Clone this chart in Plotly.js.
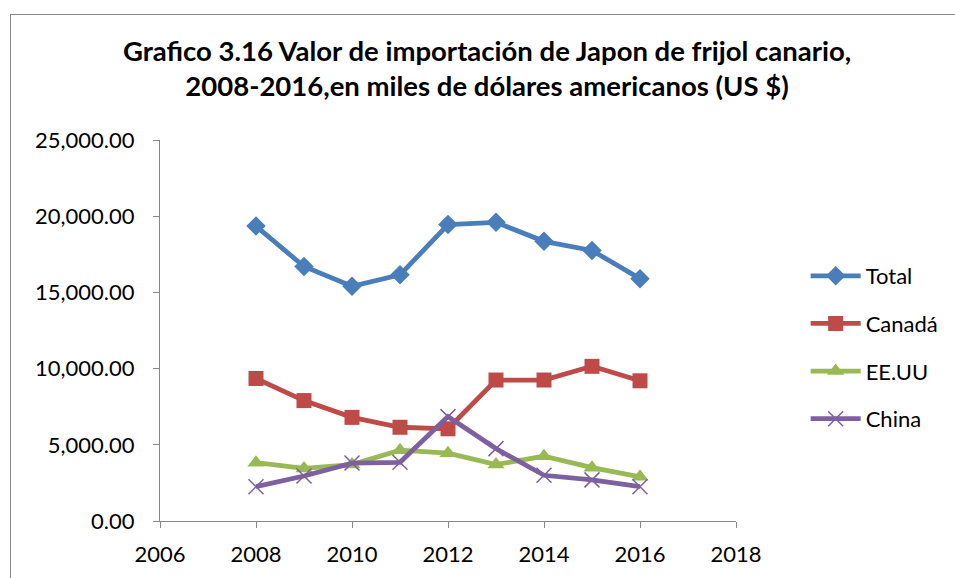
<!DOCTYPE html>
<html>
<head>
<meta charset="utf-8">
<script src="https://cdn.plot.ly/plotly-3.0.1.min.js"></script>
<style>
html,body{margin:0;padding:0;background:#fff;}
#wrap{position:relative;width:955px;height:578px;overflow:hidden;}
#frame{position:absolute;left:10px;top:14px;width:960px;height:600px;border:1.5px solid #888;box-sizing:border-box;pointer-events:none;}
#chart{position:absolute;left:0;top:0;width:955px;height:578px;}
</style>
</head>
<body>
<div id="wrap">
<div id="chart"></div>
<div id="frame"></div>
</div>
<script>
const years = [2008, 2009, 2010, 2011, 2012, 2013, 2014, 2015, 2016];
const total = [19350, 16700, 15400, 16150, 19450, 19600, 18350, 17750, 15900];
const canada = [9350, 7900, 6800, 6150, 6050, 9250, 9250, 10150, 9200];
const eeuu = [3830, 3450, 3700, 4650, 4450, 3700, 4250, 3500, 2900];
const china = [2250, 2950, 3800, 3850, 6850, 4750, 3000, 2700, 2250];
const seriesNames = ["Total", "Canadá", "EE.UU", "China"];
const colors = ["#4A7EBB", "#BE4B48", "#98B954", "#7D60A0"];

const font = "Lato, 'Open Sans', 'Liberation Sans', sans-serif";
const mk = [
  {symbol: "diamond", size: 15, color: colors[0]},
  {symbol: "square", size: 15, color: colors[1]},
  {symbol: "triangle-up", size: 15, color: colors[2]},
  {symbol: "x-thin-open", size: 15, color: colors[3], line: {color: colors[3], width: 1.5}}
];
const data = [total, canada, eeuu, china].map((ys, i) => ({
  x: years, y: ys, name: seriesNames[i], type: "scatter", mode: "lines+markers",
  line: {color: colors[i], width: 4.8}, marker: mk[i], legendgroup: "g" + i
}));

const layout = {
  width: 955, height: 578,
  margin: {l: 160, r: 218, t: 140, b: 57},
  paper_bgcolor: "#fff", plot_bgcolor: "#fff",
  font: {family: font, size: 22, color: "#000"},
  title: {
    text: "<b>Grafico 3.16 Valor de importación de Japon de frijol canario,<br>2008-2016,en miles de dólares americanos (US $)</b>",
    x: 0.51, xref: "container", xanchor: "center", y: 0.895, yref: "container", yanchor: "top",
    font: {family: font, size: 27.5, color: "#000"}
  },
  xaxis: {
    range: [2006, 2018], dtick: 2, tick0: 2006, showgrid: false, zeroline: false,
    showline: true, linecolor: "#888", linewidth: 1.2, ticks: "outside", ticklen: 6, tickcolor: "#888",
    tickfont: {size: 22}, ticklabelstandoff: 7
  },
  yaxis: {
    range: [0, 25000], dtick: 5000, showgrid: false, zeroline: false, tickformat: ",.2f",
    showline: true, linecolor: "#888", linewidth: 1.2, ticks: "outside", ticklen: 6, tickcolor: "#888",
    tickfont: {size: 22}, ticklabelstandoff: 14
  },
  legend: {
    x: 1.119, y: 0.698, xanchor: "left", yanchor: "top", font: {size: 22},
    tracegroupgap: 16, itemwidth: 50, bgcolor: "rgba(0,0,0,0)"
  },
  showlegend: true
};
Plotly.newPlot("chart", data, layout, {displayModeBar: false});
</script>
</body>
</html>
